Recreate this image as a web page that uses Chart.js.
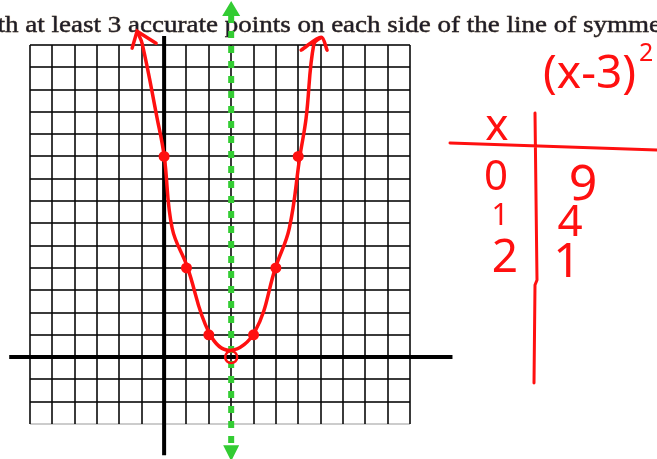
<!DOCTYPE html>
<html>
<head>
<meta charset="utf-8">
<script src="https://cdn.jsdelivr.net/npm/chart.js@4.4.1/dist/chart.umd.min.js"></script>
<style>
  body { margin: 0; background: #fff; }
  #grafico { display: block; }
</style>
</head>
<body>
<canvas id="grafico" width="657" height="459"></canvas>
<script>
// Pontos marcados sobre a parabola
let pontosX = [0, 1, 2, 3, 4, 5, 6];
let pontosY = [9, 4, 1, 0, 1, 4, 9];

// Traco da parabola feito a mao
let curvaX = [-1.21, -0.98, -0.31, 0, 0.36, 1.03, 2.01, 2.95, 4.07, 5.0, 5.6, 6.08, 6.35, 6.7, 7.03];
let curvaY = [14.62, 14.05, 10.7, 9.04, 5.78, 4.07, 1.1, 0.3, 1.16, 4.07, 5.78, 9.04, 10.7, 14.05, 14.35];

// Pontas de seta da parabola
let setaEsqX = [-1.43, -1.21, -0.36];
let setaEsqY = [13.86, 14.62, 14.08];
let setaDirX = [6.13, 7.03, 7.29];
let setaDirY = [13.77, 14.35, 13.77];

// Eixos desenhados (passam alem da grade)
let eixoXx = [-6.93, 12.9];
let eixoYy = [14.4, -4.4];

// Linha de simetria x = 3
let simetriaX = 3;
let simetriaY = [15.3, -3.95];

// Grade
let gradeX = [-6, -5, -4, -3, -2, -1, 0, 1, 2, 3, 4, 5, 6, 7, 8, 9, 10, 11];
let gradeY = [-3, -2, -1, 0, 1, 2, 3, 4, 5, 6, 7, 8, 9, 10, 11, 12, 13, 14];

// Tabela escrita a mao
let tabelaX = ["0", "1", "2"];
let tabelaY = ["9", "4", "1"];
let titulo = "with at least 3 accurate points on each side of the line of symmetry";

function pares(xs, ys) {
  return xs.map((x, i) => ({ x: x, y: ys[i] }));
}

const vermelho = "#ff1010";
const verde = "#33cc33";

// posicoes dos algarismos escritos a mao: [centro x, base, tamanho]
const posTabX = [[496, 190, 42], [500, 225, 30], [505, 272, 46]];
const posTabY = [[583, 200, 50], [570, 236, 44], [567, 277, 48]];

const textos = {
  id: "textos",
  beforeDraw(chart) {
    let ctx = chart.ctx;
    ctx.save();
    ctx.fillStyle = "#fff";
    ctx.fillRect(0, 0, chart.width, chart.height);
    ctx.font = '24px "Liberation Serif"';
    let w = ctx.measureText("accurate points on each side of the line of ").width;
    let sx = 455 / w;
    let pre = ctx.measureText("with at least 3 ").width;
    ctx.translate(128 - pre * sx, 32);
    ctx.scale(sx, 1);
    ctx.shadowColor = "rgba(230, 160, 40, 0.35)";
    ctx.shadowBlur = 1;
    ctx.fillStyle = "#16182a";
    ctx.strokeStyle = "#16182a";
    ctx.lineWidth = 0.4;
    ctx.textBaseline = "alphabetic";
    ctx.fillText(titulo, 0, 0);
    ctx.strokeText(titulo, 0, 0);
    ctx.restore();
  },
  afterDatasetsDraw(chart) {
    // pontas de seta da linha de simetria
    let ctx = chart.ctx;
    let px = chart.scales.x.getPixelForValue(simetriaX);
    let topo = chart.scales.y.getPixelForValue(simetriaY[0]);
    let base = chart.scales.y.getPixelForValue(simetriaY[1]);
    ctx.save();
    ctx.fillStyle = verde;
    ctx.beginPath();
    ctx.moveTo(px, topo - 15);
    ctx.lineTo(px - 9, topo);
    ctx.lineTo(px + 9, topo);
    ctx.closePath();
    ctx.moveTo(px - 8, base);
    ctx.lineTo(px + 8, base);
    ctx.lineTo(px, base + 16);
    ctx.closePath();
    ctx.fill();
    ctx.restore();
  },
  afterDraw(chart) {
    let ctx = chart.ctx;
    ctx.save();
    ctx.fillStyle = vermelho;
    ctx.strokeStyle = vermelho;
    ctx.textBaseline = "alphabetic";

    ctx.font = '46px "Noto Sans"';
    ctx.textAlign = "left";
    ctx.fillText("(x-3)", 543, 88);
    ctx.font = '25px "Noto Sans"';
    ctx.fillText("2", 639, 61);

    ctx.textAlign = "center";
    ctx.font = '44px "Noto Sans"';
    ctx.fillText("x", 497, 140);
    tabelaX.forEach((t, i) => {
      ctx.font = posTabX[i][2] + 'px "Noto Sans"';
      ctx.fillText(t, posTabX[i][0], posTabX[i][1]);
    });
    tabelaY.forEach((t, i) => {
      ctx.font = posTabY[i][2] + 'px "Noto Sans"';
      ctx.fillText(t, posTabY[i][0], posTabY[i][1]);
    });

    // linhas da tabela
    ctx.lineWidth = 3;
    ctx.lineCap = "round";
    ctx.beginPath();
    ctx.moveTo(450, 143);
    ctx.quadraticCurveTo(545, 146, 657, 150);
    ctx.moveTo(535, 113);
    ctx.lineTo(537, 280);
    ctx.lineTo(535, 285);
    ctx.lineTo(534, 383);
    ctx.stroke();
    ctx.restore();
  }
};

function corGrade(c) {
  return c.tick && c.tick.value === -3 ? "rgba(0, 0, 0, 0.2)" : "rgba(10, 10, 10, 0.8)";
}

let ctx = document.getElementById("grafico").getContext("2d");

new Chart(ctx, {
  type: "scatter",
  data: {
    datasets: [
      {
        data: pares(pontosX, pontosY),
        pointRadius: [5.5, 5.5, 5.5, 6, 5.5, 5.5, 5.5],
        pointBackgroundColor: [vermelho, vermelho, vermelho, "rgba(0,0,0,0)", vermelho, vermelho, vermelho],
        pointBorderColor: vermelho,
        pointBorderWidth: [0, 0, 0, 2.5, 0, 0, 0],
        clip: false,
        order: 1
      },
      {
        data: pares(curvaX, curvaY),
        showLine: true,
        tension: 0.4,
        borderColor: vermelho,
        borderWidth: 3.5,
        pointRadius: 0,
        clip: false,
        order: 2
      },
      {
        data: pares(setaEsqX, setaEsqY),
        showLine: true,
        borderColor: vermelho,
        borderWidth: 3.5,
        borderCapStyle: "round",
        pointRadius: 0,
        clip: false,
        order: 2
      },
      {
        data: pares(setaDirX, setaDirY),
        showLine: true,
        tension: 0.3,
        borderColor: vermelho,
        borderWidth: 3.5,
        borderCapStyle: "round",
        pointRadius: 0,
        clip: false,
        order: 2
      },
      {
        data: pares([simetriaX, simetriaX], simetriaY),
        showLine: true,
        borderColor: verde,
        borderWidth: 6,
        borderDash: [7, 8],
        pointRadius: 0,
        clip: false,
        order: 4
      },
      {
        data: pares(eixoXx, [0, 0]),
        showLine: true,
        borderColor: "#000",
        borderWidth: 4,
        pointRadius: 0,
        clip: false,
        order: 5
      },
      {
        data: pares([0, 0], eixoYy),
        showLine: true,
        borderColor: "#000",
        borderWidth: 4,
        pointRadius: 0,
        clip: false,
        order: 5
      }
    ]
  },
  options: {
    responsive: false,
    animation: false,
    events: [],
    layout: { padding: { left: 30, right: 247, top: 45, bottom: 35 } },
    plugins: {
      legend: { display: false },
      tooltip: { enabled: false }
    },
    scales: {
      x: {
        type: "linear",
        min: -6,
        max: 11,
        afterBuildTicks: function (s) { s.ticks = gradeX.map(v => ({ value: v })); },
        ticks: { display: false },
        border: { display: false },
        grid: { color: "rgba(10, 10, 10, 0.8)", lineWidth: 2, drawTicks: false }
      },
      y: {
        type: "linear",
        min: -3,
        max: 14,
        afterBuildTicks: function (s) { s.ticks = gradeY.map(v => ({ value: v })); },
        ticks: { display: false },
        border: { display: false },
        grid: { color: corGrade, lineWidth: 2, drawTicks: false }
      }
    }
  },
  plugins: [textos]
});
</script>
</body>
</html>
